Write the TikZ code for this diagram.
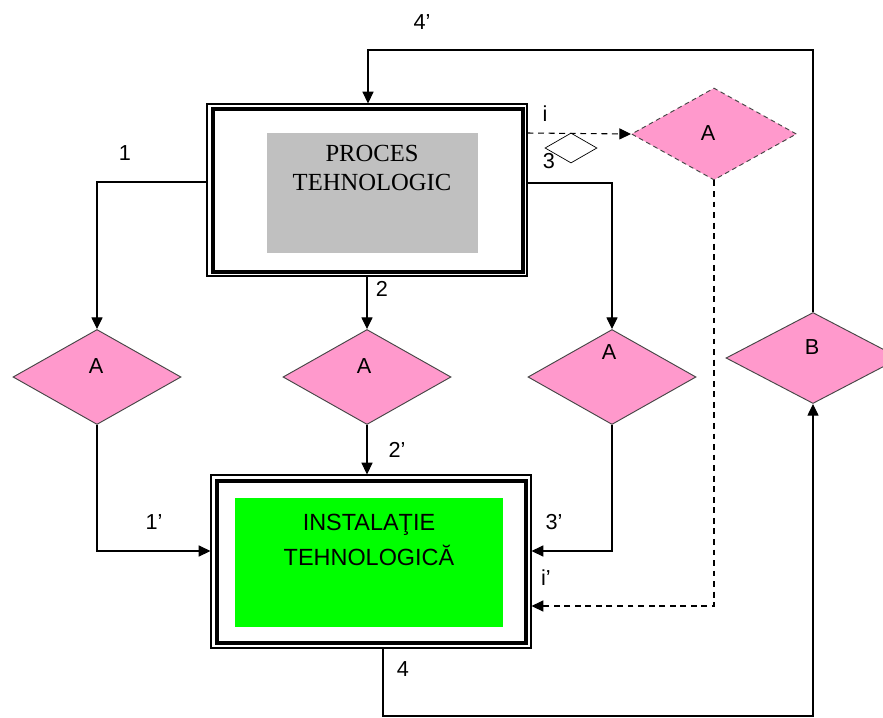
\documentclass[tikz,border=0pt]{standalone}
\usepackage{fontspec}
\setmainfont{Liberation Sans}
\newfontfamily\serifA{Liberation Serif}
\usetikzlibrary{shapes.geometric,arrows.meta}
\definecolor{pinkA}{RGB}{255,153,204}
\definecolor{grayA}{RGB}{192,192,192}
\definecolor{greenA}{RGB}{0,255,0}
\definecolor{dgray}{RGB}{70,70,70}
\tikzset{
  outerbox/.style={draw, line width=1pt, inner sep=0pt},
  innerbox/.style={draw, line width=2.6pt, inner sep=0pt},
  fillbox/.style={inner sep=0pt},
  dia/.style={diamond, draw=dgray, line width=0.8pt, fill=pinkA, inner sep=0pt},
  lab/.style={font=\fontsize{18.5}{18.5}\selectfont, inner sep=0pt},
  arr/.style={line width=0.9pt, -{Triangle[length=10pt,width=9.5pt]}},
  darr/.style={arr, dashed, dash pattern=on 5pt off 4pt},
}
\begin{document}
\begin{tikzpicture}[x=0.03cm, y=-0.03cm]
\useasboundingbox (0,0) rectangle (883,717);
\begin{scope}
\clip (0,0) rectangle (883,717);
% top box
\node[outerbox, minimum width=9.6cm, minimum height=5.16cm] (proc) at (367,190) {};
\node[innerbox, minimum width=9.3cm, minimum height=4.89cm] (procin) at (368,190.5) {};
\node[fillbox, fill=grayA, minimum width=6.33cm, minimum height=3.6cm] (procg) at (372.5,193) {};
\node[align=center, inner sep=0pt, font=\serifA\fontsize{21}{25}\selectfont] (proct) at (372,168) {PROCES\\TEHNOLOGIC};
% bottom box
\node[outerbox, minimum width=9.6cm, minimum height=5.19cm] (inst) at (371,561.5) {};
\node[innerbox, minimum width=9.27cm, minimum height=4.86cm] (instin) at (371.5,562) {};
\node[fillbox, fill=greenA, minimum width=8.04cm, minimum height=3.87cm] (instg) at (369,562.5) {};
\node[align=center, inner sep=0pt, font=\fontsize{20}{30}\selectfont] (instt) at (369,540) {INSTALAŢIE\\TEHNOLOGICĂ};
% diamonds
\node[dia, minimum width=5.04cm, minimum height=2.85cm] (a1) at (97,377) {};
\node[dia, minimum width=5.04cm, minimum height=2.85cm] (a2) at (367,377) {};
\node[dia, minimum width=5.04cm, minimum height=2.85cm] (a3) at (612,377) {};
\node[dia, minimum width=5.22cm, minimum height=2.73cm] (b) at (813,358) {};
\node[dia, dashed, dash pattern=on 4pt off 3pt, minimum width=4.95cm, minimum height=2.76cm] (da) at (714,134) {};
\node[diamond, draw, line width=0.6pt, fill=white, inner sep=0pt, minimum width=1.56cm, minimum height=0.9cm] (sd) at (571,148) {};
\node[lab] (ta1) at (96,366) {A};
\node[lab] (ta2) at (364,366) {A};
\node[lab] (ta3) at (609,352) {A};
\node[lab] (tb) at (812,347) {B};
\node[lab] (tda) at (708,133) {A};
% coordinates
\coordinate (bot) at (383,716);
\coordinate (topc) at (368,50);
% connectors
\draw[arr] ([yshift=0.24cm]proc.west) -| (a1.north);
\draw[arr] ([yshift=0.21cm]proc.east) -| (a3.north);
\draw[arr] (proc.south) -- (a2.north);
\draw[darr] ([yshift=1.71cm]proc.east) -- (da.west);
\draw[arr] (a1.south) |- ([yshift=0.315cm]inst.west);
\draw[arr] (a2.south) -- (a2.south |- inst.north);
\draw[arr] (a3.south) |- ([yshift=0.315cm]inst.east);
\draw[darr] (da.south) |- ([yshift=-1.335cm]inst.east);
\draw[arr] (inst.south -| bot) -- (bot) -| (b.south);
\draw[arr] (b.north) |- (topc) -- (topc |- proc.north);
% labels
\node[lab] (l4p) at (422,22) {4’};
\node[lab] (l1) at (125,153) {1};
\node[lab] (li) at (545,114) {i};
\node[lab] (l3) at (549,161) {3};
\node[lab] (l2) at (382,289) {2};
\node[lab] (l2p) at (397,450) {2’};
\node[lab] (l1p) at (154,522) {1’};
\node[lab] (l3p) at (554,522) {3’};
\node[lab] (lip) at (546,578) {i’};
\node[lab] (l4) at (403,669) {4};
\end{scope}
\end{tikzpicture}
\end{document}
